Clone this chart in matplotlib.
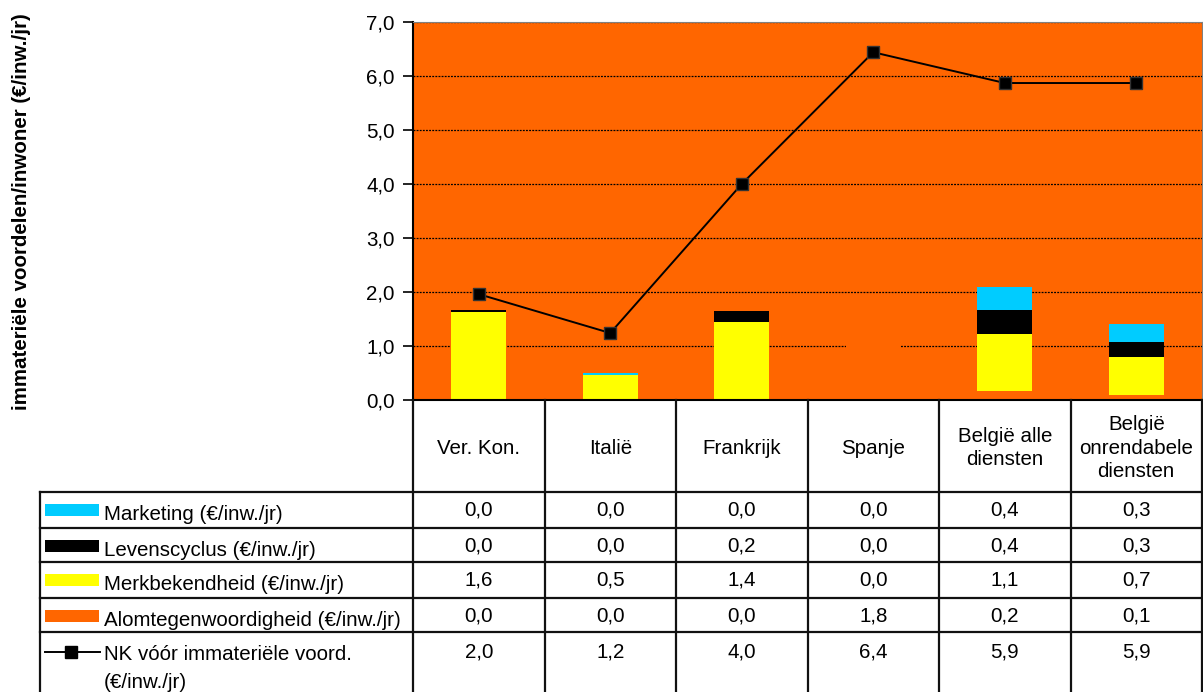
import numpy as np
import matplotlib.pyplot as plt
from matplotlib.ticker import FuncFormatter

plt.rcParams['font.family'] = ['Liberation Sans', 'DejaVu Sans']

W, H = 1203, 692
FS = 14.8

landen = ['Ver. Kon.', 'Italië', 'Frankrijk', 'Spanje', 'België alle\ndiensten',
          'België\nonrendabele\ndiensten']

alomtegenwoordigheid = [0.0, 0.0, 0.0, 1.8, 0.16, 0.1]
merkbekendheid = [1.63, 0.46, 1.44, 0.0, 1.06, 0.7]
levenscyclus = [0.04, 0.0, 0.2, 0.0, 0.44, 0.28]
marketing = [0.0, 0.04, 0.0, 0.0, 0.44, 0.32]
nk_voor = [1.96, 1.24, 4.0, 6.44, 5.87, 5.87]

ORANJE = '#FF6600'
GEEL = '#FFFF00'
ZWART = '#000000'
CYAAN = '#00CCFF'

# series in stacking order (bottom to top)
reeksen = [
    ('Alomtegenwoordigheid (€/inw./jr)', alomtegenwoordigheid, ORANJE),
    ('Merkbekendheid (€/inw./jr)', merkbekendheid, GEEL),
    ('Levenscyclus (€/inw./jr)', levenscyclus, ZWART),
    ('Marketing (€/inw./jr)', marketing, CYAAN),
]


def fmt(v):
    return f"{v:.1f}".replace('.', ',')


fig = plt.figure(figsize=(W / 100, H / 100), dpi=100)

# plot area in pixel coordinates
px_l, px_r, px_t, px_b = 413, 1202, 22, 400
ax = fig.add_axes([px_l / W, 1 - px_b / H, (px_r - px_l) / W, (px_b - px_t) / H])
ax.set_facecolor(ORANJE)

x = np.arange(len(landen))
bodem = np.zeros(len(landen))
for naam, waarden, kleur in reeksen:
    ax.bar(x, waarden, width=0.42, bottom=bodem, color=kleur, zorder=2)
    bodem = bodem + np.array(waarden)

ax.plot(x, nk_voor, color='black', lw=1.4, marker='s', markersize=9,
        markerfacecolor='black', markeredgecolor='#333333', zorder=3)

ax.set_xlim(-0.5, len(landen) - 0.5)
ax.set_ylim(0, 7)
ax.set_yticks(np.arange(0, 8, 1))
ax.yaxis.set_major_formatter(FuncFormatter(lambda v, p: fmt(v)))
ax.set_xticks([])
ax.tick_params(axis='y', length=7, width=1.2, labelsize=FS, pad=6)
ax.set_axisbelow(True)
ax.yaxis.grid(True, color='black', linestyle=(0, (1.5, 1)), linewidth=0.9, zorder=1)
ax.spines['left'].set_linewidth(1.5)
ax.spines['bottom'].set_linewidth(1.5)
ax.spines['top'].set_color('#808080')
ax.spines['right'].set_color('#808080')

fig.text(22 / W, 1 - 212 / H, 'immateriële voordelen/inwoner (€/inw./jr)',
         rotation=90, ha='center', va='center', fontsize=FS, fontweight='bold')

# data table below the plot
tab = fig.add_axes([0, 0, 1, 1])
tab.set_xlim(0, W)
tab.set_ylim(H, 0)
tab.axis('off')

kol = np.linspace(px_l, px_r, len(landen) + 1)
rijen = [492, 528, 562, 598, 632, H]
lijn = dict(color='#111111', lw=1.6)

for xc in kol:
    tab.plot([xc, xc], [px_b, H], **lijn)
tab.plot([40, 40], [rijen[0], H], **lijn)
for yr in rijen[:-1]:
    tab.plot([40, px_r], [yr, yr], **lijn)

kol_mid = (kol[:-1] + kol[1:]) / 2
for xm, land in zip(kol_mid, landen):
    tab.text(xm, 448, land, ha='center', va='center', fontsize=FS, linespacing=1.3)

tabel_rijen = [
    ('Marketing (€/inw./jr)', marketing, CYAAN),
    ('Levenscyclus (€/inw./jr)', levenscyclus, ZWART),
    ('Merkbekendheid (€/inw./jr)', merkbekendheid, GEEL),
    ('Alomtegenwoordigheid (€/inw./jr)', alomtegenwoordigheid, ORANJE),
]
for i, (naam, waarden, kleur) in enumerate(tabel_rijen):
    y0 = rijen[i]
    tab.add_patch(plt.Rectangle((45, y0 + 12), 54, 12, facecolor=kleur,
                                edgecolor='none'))
    tab.text(104, y0 + 23, naam, ha='left', va='center', fontsize=FS)
    for xm, v in zip(kol_mid, waarden):
        tab.text(xm, y0 + 18, fmt(v), ha='center', va='center', fontsize=FS)

# line series row
tab.plot([45, 100], [652, 652], color='black', lw=1.4)
tab.plot([71], [652], marker='s', markersize=8, color='black')
tab.text(104, 655, 'NK vóór immateriële voord.', ha='left', va='center', fontsize=FS)
tab.text(104, 682, '(€/inw./jr)', ha='left', va='center', fontsize=FS)
for xm, v in zip(kol_mid, nk_voor):
    tab.text(xm, 652, fmt(v), ha='center', va='center', fontsize=FS)

fig.savefig('out.png', dpi=100)
